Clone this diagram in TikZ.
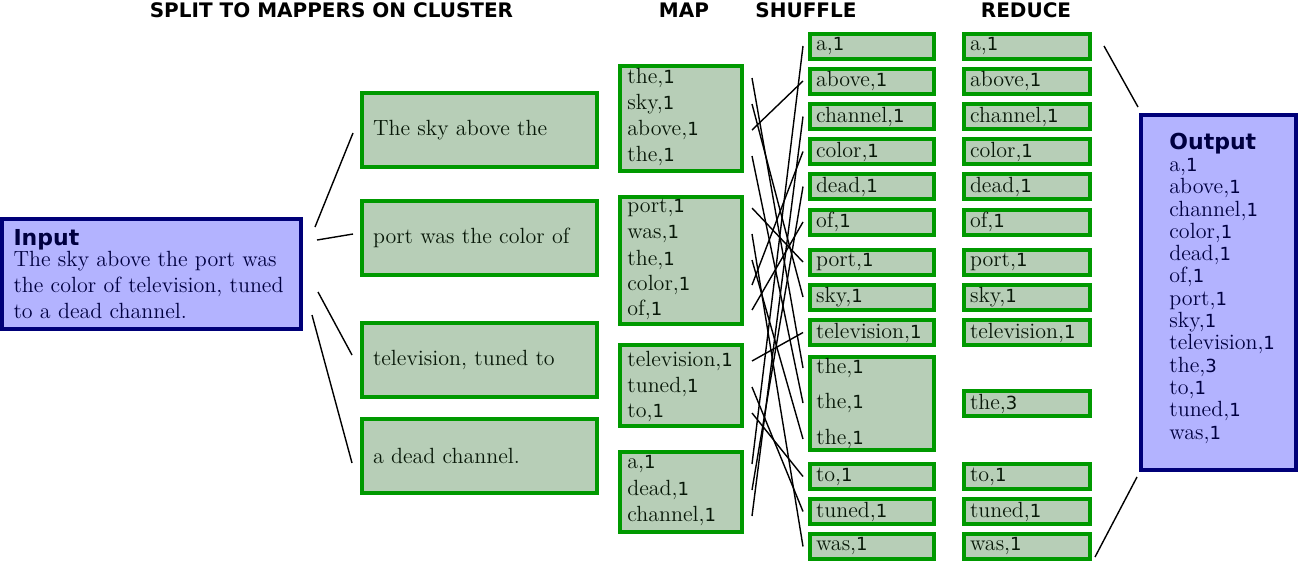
\documentclass[tikz,border=0pt]{standalone}
\usepackage{fontspec}
\usepackage{tikz}
\newfontfamily\headfont{DejaVu Sans}
\newfontfamily\numfont{DejaVu Sans}[Scale=0.82]
\definecolor{mapgreen}{RGB}{0,153,0}
\definecolor{mapfill}{RGB}{183,206,183}
\definecolor{inkgreen}{RGB}{8,24,8}
\definecolor{ionavy}{RGB}{0,0,120}
\definecolor{iofill}{RGB}{179,179,255}
\definecolor{inknavy}{RGB}{0,0,64}
\newcommand\bodysize{\fontsize{11}{13}\selectfont}
\newcommand\kvp[2]{#1,{\numfont #2}}
\tikzset{
  greenbox/.style={draw=mapgreen, fill=mapfill, line width=2pt, text=inkgreen, font=\bodysize},
  iobox/.style={draw=ionavy, fill=iofill, line width=2pt, text=inknavy},
  header/.style={font=\headfont\bfseries, inner sep=0pt},
  word/.style={anchor=west, inner sep=0pt, text=inkgreen, font=\bodysize},
  splitbox/.style={greenbox, minimum width=117.5pt, minimum height=37pt, text width=106.5pt, inner xsep=5.5pt, align=left},
  mapbox/.style={greenbox, minimum width=61pt},
  shufbox/.style={greenbox, minimum width=62pt, minimum height=12.5pt, text width=56pt, inner xsep=3pt, inner ysep=0pt, align=left},
  redbox/.style={greenbox, minimum width=63pt, minimum height=12.5pt, text width=57pt, inner xsep=3pt, inner ysep=0pt, align=left},
  link/.style={draw=black, line width=0.7pt}
}

\begin{document}
\begin{tikzpicture}[x=0.5pt, y=-0.5pt]
      \useasboundingbox (0,0) rectangle (1300,562);

      % Column titles
      \node[header] (h-split) at (331.5,10) {SPLIT TO MAPPERS ON CLUSTER};
      \node[header] (h-map) at (684,10) {MAP};
      \node[header] (h-shuffle) at (806,10) {SHUFFLE};
      \node[header] (h-reduce) at (1026,10) {REDUCE};

      % Input
      \node[iobox, minimum width=149.5pt, minimum height=55pt, text width=138pt, align=left, font=\bodysize] (input) at (151.5,274)
        {{\headfont\bfseries Input}\\[-2.8pt]
         The sky above the port was\\
         the color of television, tuned\\
         to a dead channel.};

      % Split
      \node[splitbox] (split1) at (479.5,130) {The sky above the};
      \node[splitbox] (split2) at (479.5,238) {port was the color of};
      \node[splitbox] (split3) at (479.5,360) {television, tuned to};
      \node[splitbox] (split4) at (479.5,456) {a dead channel.};

      \draw[link] ([shift={(12,-47)}]input.east) -- ([shift={(-7,3)}]split1.west);
      \draw[link] ([shift={(14,-34)}]input.east) -- ([shift={(-7,-4)}]split2.west);
      \draw[link] ([shift={(15,18)}]input.east) -- ([shift={(-8,-5)}]split3.west);
      \draw[link] ([shift={(9,41)}]input.east) -- ([shift={(-8,7)}]split4.west);

      % Map
      \node[mapbox, minimum height=52.5pt] (map1) at (681,118.5) {};
      \node[mapbox, minimum height=63.5pt] (map2) at (681,260.5) {};
      \node[mapbox, minimum height=40.5pt] (map3) at (681,385.5) {};
      \node[mapbox, minimum height=40pt] (map4) at (681,492) {};

      \node[word] (ma-the) at (627,78) {\kvp{the}{1}};
      \node[word] (ma-sky) at (627,104) {\kvp{sky}{1}};
      \node[word] (ma-above) at (627,130) {\kvp{above}{1}};
      \node[word] (ma-the2) at (627,156) {\kvp{the}{1}};
      \node[word] (mb-port) at (627,208) {\kvp{port}{1}};
      \node[word] (mb-was) at (627,234) {\kvp{was}{1}};
      \node[word] (mb-the) at (627,260) {\kvp{the}{1}};
      \node[word] (mb-color) at (627,285) {\kvp{color}{1}};
      \node[word] (mb-of) at (627,310) {\kvp{of}{1}};
      \node[word] (mc-television) at (627,361) {\kvp{television}{1}};
      \node[word] (mc-tuned) at (627,387) {\kvp{tuned}{1}};
      \node[word] (mc-to) at (627,413) {\kvp{to}{1}};
      \node[word] (md-a) at (627,464) {\kvp{a}{1}};
      \node[word] (md-dead) at (627,490) {\kvp{dead}{1}};
      \node[word] (md-channel) at (627,516) {\kvp{channel}{1}};

      % Shuffle
      \node[shufbox] (sh-a) at (872,46) {\kvp{a}{1}};
      \node[shufbox] (sh-above) at (872,81) {\kvp{above}{1}};
      \node[shufbox] (sh-channel) at (872,116.5) {\kvp{channel}{1}};
      \node[shufbox] (sh-color) at (872,151.5) {\kvp{color}{1}};
      \node[shufbox] (sh-dead) at (872,186.5) {\kvp{dead}{1}};
      \node[shufbox] (sh-of) at (872,222) {\kvp{of}{1}};
      \node[shufbox] (sh-port) at (872,262) {\kvp{port}{1}};
      \node[shufbox] (sh-sky) at (872,297) {\kvp{sky}{1}};
      \node[shufbox] (sh-television) at (872,332.5) {\kvp{television}{1}};
      \node[greenbox, minimum width=62pt, minimum height=46.5pt] (sh-the) at (872,403.5) {};
      \node[word] (sh-the1) at (816,368) {\kvp{the}{1}};
      \node[word] (sh-the2) at (816,403) {\kvp{the}{1}};
      \node[word] (sh-the3) at (816,439) {\kvp{the}{1}};
      \node[shufbox] (sh-to) at (872,476.5) {\kvp{to}{1}};
      \node[shufbox] (sh-tuned) at (872,511.5) {\kvp{tuned}{1}};
      \node[shufbox] (sh-was) at (872,546.5) {\kvp{was}{1}};

      \foreach \m/\s in {ma-the/sh-the1, ma-sky/sh-sky, ma-above/sh-above, ma-the2/sh-the2,
          mb-port/sh-port, mb-was/sh-was, mb-the/sh-the3, mb-color/sh-color, mb-of/sh-of,
          mc-television/sh-television, mc-tuned/sh-tuned, mc-to/sh-to,
          md-a/sh-a, md-dead/sh-dead, md-channel/sh-channel}{
          \draw[link] ([xshift=4pt]\m -| map1.east) -- ([xshift=-2.5pt]\s -| sh-a.west);
        }

      % Reduce
      \node[redbox] (rd-a) at (1027,46) {\kvp{a}{1}};
      \node[redbox] (rd-above) at (1027,81) {\kvp{above}{1}};
      \node[redbox] (rd-channel) at (1027,116.5) {\kvp{channel}{1}};
      \node[redbox] (rd-color) at (1027,151.5) {\kvp{color}{1}};
      \node[redbox] (rd-dead) at (1027,186.5) {\kvp{dead}{1}};
      \node[redbox] (rd-of) at (1027,222) {\kvp{of}{1}};
      \node[redbox] (rd-port) at (1027,262) {\kvp{port}{1}};
      \node[redbox] (rd-sky) at (1027,297) {\kvp{sky}{1}};
      \node[redbox] (rd-television) at (1027,332.5) {\kvp{television}{1}};
      \node[redbox] (rd-the) at (1027,403.5) {\kvp{the}{3}};
      \node[redbox] (rd-to) at (1027,476.5) {\kvp{to}{1}};
      \node[redbox] (rd-tuned) at (1027,511.5) {\kvp{tuned}{1}};
      \node[redbox] (rd-was) at (1027,546.5) {\kvp{was}{1}};

      % Output
      \node[iobox, minimum width=77.5pt, minimum height=177.5pt] (output) at (1218.5,292.5) {};
      \node[anchor=north west, inner sep=0pt, align=left, text=inknavy, font=\fontsize{11}{11.15}\selectfont] (out-text) at (1169,133)
        {{\headfont\bfseries Output}\\[-0.3pt]
         \kvp{a}{1}\\ \kvp{above}{1}\\ \kvp{channel}{1}\\ \kvp{color}{1}\\ \kvp{dead}{1}\\
         \kvp{of}{1}\\ \kvp{port}{1}\\ \kvp{sky}{1}\\ \kvp{television}{1}\\ \kvp{the}{3}\\
         \kvp{to}{1}\\ \kvp{tuned}{1}\\ \kvp{was}{1}};

      \draw[link] ([xshift=6]rd-a.east) -- ([shift={(-1,-6)}]output.north west);
      \draw[link] ([shift={(3,10.5)}]rd-was.east) -- ([shift={(-2,5)}]output.south west);
    \end{tikzpicture}
\end{document}
